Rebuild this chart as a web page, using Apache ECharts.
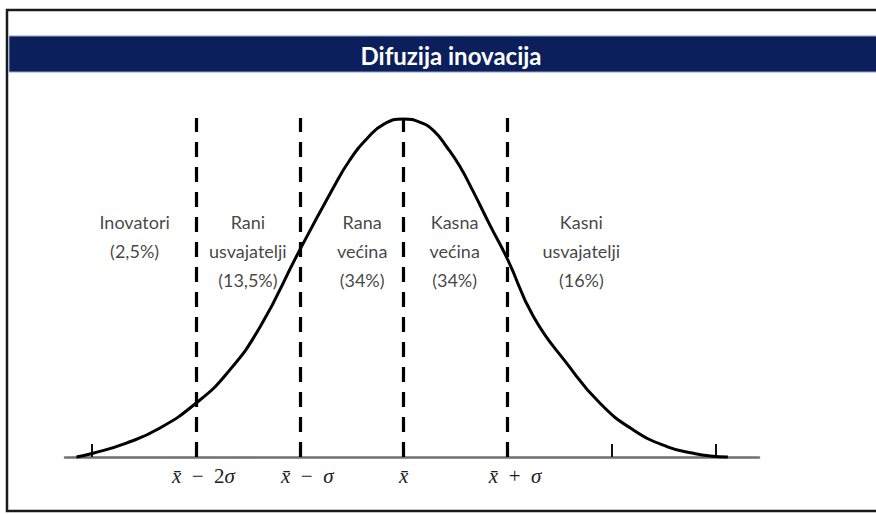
<!DOCTYPE html>
<html>
<head>
<meta charset="utf-8">
<title>Difuzija inovacija</title>
<script src="https://cdn.jsdelivr.net/npm/echarts@6/dist/echarts.min.js"></script>
<style>
    html, body { margin: 0; padding: 0; background: #fff; }
    #chart { width: 876px; height: 514px; }
</style>
</head>
<body>
<div id="chart"></div>
<script>
// positions on the curve, in sigma units from the mean
const sigmaX = [-3.15, -2.99, -2.67, -2.35, -2.0, -1.70, -1.38, -1.01, -0.68, -0.52, -0.35, -0.19, 0,
    0.16, 0.29, 0.42, 0.54, 0.67, 0.83, 1.0, 1.25, 1.57, 1.89, 2.21, 2.54, 2.79, 2.95, 3.12];
// curve height, peak = 100
const curveHeight = [0, 1.1, 4.1, 8.5, 15.9, 24.8, 38.6, 60.7, 79.5, 87.8, 94.3, 98.5, 100,
    99.0, 96.5, 91.5, 86.0, 78.5, 68.6, 58.5, 41.5, 27.7, 15.9, 8.0, 3.0, 1.1, 0.3, 0];

// dashed boundaries and their labels
const boundaries = [-2, -1, 0, 1];
const boundaryLabels = ['x\u0304 \u2212 2\u03c3', 'x\u0304 \u2212 \u03c3', 'x\u0304', 'x\u0304 + \u03c3'];
// small ticks on the baseline
const minorTicks = [-3, 2, 3];

// adopter groups
const groups = ['Inovatori\n(2,5%)', 'Rani\nusvajatelji\n(13,5%)', 'Rana\nvećina\n(34%)', 'Kasna\nvećina\n(34%)', 'Kasni\nusvajatelji\n(16%)'];
const groupX = [-2.59, -1.5, -0.40, 0.49, 1.71];
const groupY = [65.2, 60.9, 60.9, 60.9, 60.9];

let chart = echarts.init(document.getElementById('chart'), null, {renderer: 'svg'});

const labelFont = 'Lato, "Open Sans", sans-serif';
const mathFont = '"Liberation Serif", "DejaVu Serif", serif';

// x̄ and σ in italics, operators and digits upright
function mathLabel(s) {
    let parts = s.split(' ');
    let out = parts.length > 1 ? '{s|}' : '';
    parts.forEach((p, i) => {
        let chunk = p.replace(/x\u0304/g, '{i|x\u0304}')
            .replace(/\u03c3/g, '{i|\u03c3}')
            .replace(/([0-9\u2212+]+)/g, '{n|$1}');
        out += (i > 0 ? '{n|  }' : '') + chunk;
    });
    return out;
}

option = {
    backgroundColor: '#fff',
    animation: false,
    title: {
        text: 'Difuzija inovacija',
        left: 446,
        top: 38,
        textAlign: 'center',
        textStyle: {
            color: '#fff',
            fontFamily: labelFont,
            fontWeight: 'bold',
            fontSize: 24
        }
    },
    graphic: [
        {
            type: 'rect',
            z: -10,
            shape: {x: 7, y: 10, width: 900, height: 501},
            style: {fill: 'none', stroke: '#1a1a1a', lineWidth: 2.5}
        },
        {
            type: 'rect',
            z: -5,
            shape: {x: 9, y: 36, width: 880, height: 36},
            style: {fill: '#0b1f5c', stroke: '#8fa2c8', lineWidth: 1}
        }
    ],
    grid: {left: 65, right: 117, top: 118, bottom: 57},
    xAxis: {
        type: 'value',
        min: -3.26,
        max: 3.42,
        splitLine: {show: false},
        axisLine: {
            show: true,
            lineStyle: {color: '#707070', width: 2.5}
        },
        axisTick: {
            show: true,
            customValues: minorTicks,
            inside: true,
            length: 13,
            lineStyle: {color: '#111', width: 2}
        },
        axisLabel: {
            customValues: boundaries,
            margin: 8,
            color: '#222',
            fontFamily: mathFont,
            fontSize: 21,
            formatter: function (v) {
                let i = boundaries.indexOf(v);
                return i >= 0 ? mathLabel(boundaryLabels[i]) : '';
            },
            rich: {
                i: {fontFamily: mathFont, fontStyle: 'italic', fontSize: 21, color: '#222'},
                n: {fontFamily: mathFont, fontSize: 21, color: '#222'},
                s: {width: 15}
            }
        }
    },
    yAxis: {
        type: 'value',
        min: 0,
        max: 100.3,
        show: false,
        splitLine: {show: false}
    },
    series: [
        {
            name: 'krivulja',
            type: 'line',
            smooth: 0.5,
            symbol: 'none',
            clip: false,
            lineStyle: {color: '#000', width: 3},
            data: sigmaX.map((x, i) => [x, curveHeight[i]]),
            markLine: {
                silent: true,
                symbol: 'none',
                label: {show: false},
                lineStyle: {color: '#000', width: 3.2, type: [15, 10]},
                data: boundaries.map(b => ({xAxis: b}))
            }
        },
        {
            name: 'skupine',
            type: 'scatter',
            symbolSize: 0,
            silent: true,
            data: groups.map((g, i) => ({value: [groupX[i], groupY[i]], name: g})),
            label: {
                show: true,
                position: 'inside',
                formatter: p => p.name,
                color: '#111',
                fontFamily: labelFont,
                fontSize: 18,
                lineHeight: 29,
                align: 'center'
            }
        }
    ]
};

chart.setOption(option);

window.onresize = function () {
    chart.resize();
}
</script>
</body>
</html>
